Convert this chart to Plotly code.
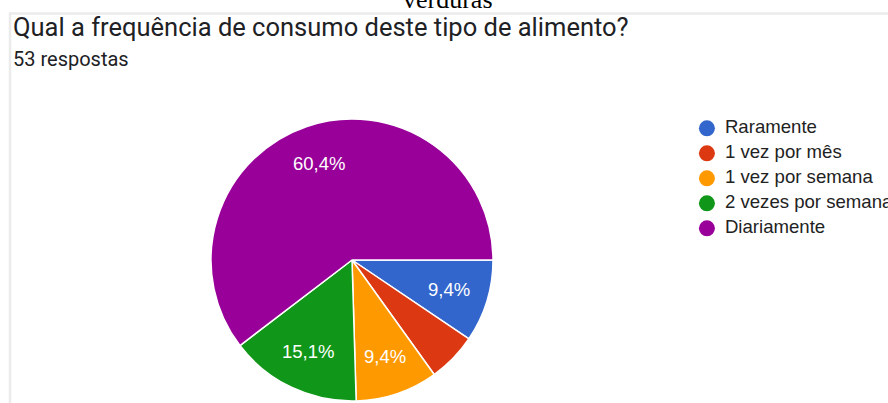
import math
import plotly.graph_objects as go

# Survey answers: "Qual a frequência de consumo deste tipo de alimento?" (verduras)
categories = ["Raramente", "1 vez por mês", "1 vez por semana", "2 vezes por semana", "Diariamente"]
counts = [5, 3, 5, 8, 32]
colors = ["#3366cc", "#dc3912", "#ff9900", "#109618", "#990099"]

total = sum(counts)
# Percent labels in pt-BR style; very thin slices stay unlabeled
slice_text = [
    (f"{c / total * 100:.1f}%".replace(".", ",") if c / total >= 0.07 else "")
    for c in counts
]

W, H = 888, 403

# Pie geometry (pixels): domain box, square
PIE_LEFT, PIE_RIGHT, PIE_TOP, PIE_BOTTOM = 211, 493, 119, 401
pie_cx = (PIE_LEFT + PIE_RIGHT) / 2
pie_cy = (PIE_TOP + PIE_BOTTOM) / 2
pie_r = (PIE_RIGHT - PIE_LEFT) / 2
LABEL_RADIUS = 0.72

fig = go.Figure()

fig.add_trace(go.Pie(
    labels=categories,
    values=counts,
    textinfo="none",
    marker=dict(colors=colors, line=dict(color="white", width=1.5)),
    sort=False,
    direction="clockwise",
    rotation=90,
    showlegend=False,
    hoverinfo="label+percent",
    domain=dict(x=[PIE_LEFT / W, PIE_RIGHT / W], y=[1 - PIE_BOTTOM / H, 1 - PIE_TOP / H]),
))

# Slice labels placed at each slice's mid-angle (clockwise from 3 o'clock)
label_annotations = []
cum = 0
for c, txt in zip(counts, slice_text):
    mid = (cum + c / 2) / total * 2 * math.pi
    cum += c
    if not txt:
        continue
    px = pie_cx + LABEL_RADIUS * pie_r * math.cos(mid)
    py = pie_cy + LABEL_RADIUS * pie_r * math.sin(mid)
    label_annotations.append(dict(
        text=txt, xref="paper", yref="paper", x=px / W, y=1 - py / H,
        xanchor="center", yanchor="middle", showarrow=False,
        font=dict(family="Liberation Sans, Arial, sans-serif", size=18.5, color="white"),
    ))

# Legend drawn as circle markers with labels
idx = list(range(len(categories)))
fig.add_trace(go.Scatter(
    x=[0] * len(categories), y=idx,
    mode="markers",
    marker=dict(symbol="circle", size=16, color=colors, line=dict(width=0)),
    xaxis="x", yaxis="y", showlegend=False, hoverinfo="skip",
))
fig.add_trace(go.Scatter(
    x=[1.2] * len(categories), y=idx,
    mode="text",
    text=categories,
    textposition="middle right",
    textfont=dict(family="Liberation Sans, Arial, sans-serif", size=18.6, color="#222222"),
    xaxis="x", yaxis="y", showlegend=False, hoverinfo="skip",
))

fig.update_layout(
    width=W, height=H,
    margin=dict(l=0, r=0, t=0, b=0),
    paper_bgcolor="white",
    plot_bgcolor="rgba(0,0,0,0)",
    xaxis=dict(domain=[0.78, 1.0], range=[-0.95, 12.05], visible=False, fixedrange=True),
    yaxis=dict(domain=[1 - 240.8 / H, 1 - 115.8 / H], range=[4.5, -0.5], visible=False, fixedrange=True),
    shapes=[
        dict(type="line", xref="paper", yref="paper", x0=9 / W, x1=1, y0=1 - 13.5 / H, y1=1 - 13.5 / H,
             line=dict(color="#ebebeb", width=2.5)),
        dict(type="line", xref="paper", yref="paper", x0=10 / W, x1=10 / W, y0=0, y1=1 - 12.5 / H,
             line=dict(color="#ebebeb", width=2.5)),
    ],
    annotations=label_annotations + [
        dict(text="verduras", xref="paper", yref="paper", x=448 / W, y=1 + 1 / H,
             xanchor="center", yanchor="middle", showarrow=False,
             font=dict(family="Liberation Serif, Times New Roman, serif", size=26, color="black")),
        dict(text="Qual a frequência de consumo deste tipo de alimento?", xref="paper", yref="paper",
             x=11 / W, y=1 - 27 / H, xanchor="left", yanchor="middle", showarrow=False,
             font=dict(family="Roboto, Arial, sans-serif", size=25.5, color="#202124")),
        dict(text="53 respostas", xref="paper", yref="paper",
             x=11 / W, y=1 - 59 / H, xanchor="left", yanchor="middle", showarrow=False,
             font=dict(family="Roboto, Arial, sans-serif", size=20, color="#202124")),
    ],
)

fig.write_html("out.html")
